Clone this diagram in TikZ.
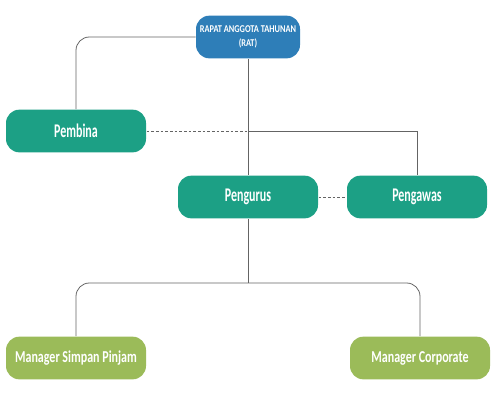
\documentclass[tikz,border=0pt]{standalone}
\usepackage{fontspec}
\setmainfont{Carlito}
\newfontfamily\orgfont{Carlito}[FakeStretch=0.62]
\newfontfamily\mgrfont{Carlito}[FakeStretch=0.72]
\newfontfamily\ratfont{Carlito}[FakeStretch=0.8]
\usetikzlibrary{positioning}

\definecolor{ratblue}{RGB}{46,126,184}
\definecolor{orgteal}{RGB}{28,160,133}
\definecolor{mgrgreen}{RGB}{155,187,89}
\definecolor{linegray}{RGB}{100,100,100}

\tikzset{every picture/.style={line width=0.75pt}}
\tikzset{
  box/.style={rounded corners=10pt, text=white, inner sep=0.75pt,
    minimum width=105pt, minimum height=32pt, align=center},
  ratbox/.style={box, fill=ratblue, minimum width=78pt,
    font=\ratfont\bfseries\fontsize{7.8}{10.5}\selectfont},
  orgbox/.style={box, fill=orgteal, font=\orgfont\bfseries\fontsize{14.5}{16}\selectfont},
  mgrbox/.style={box, fill=mgrgreen, font=\mgrfont\bfseries\fontsize{12.5}{14}\selectfont},
  conn/.style={draw=linegray, line width=0.6pt},
  dashconn/.style={conn, dash pattern={on 2pt off 1.5pt}}
}

\begin{document}
\begin{tikzpicture}[x=0.75pt,y=0.75pt,yscale=-1,xscale=1]
		\useasboundingbox (0,0) rectangle (500,400);
		
		% Boxes
		\node [ratbox] (rat) at (248,37) {RAPAT ANGGOTA TAHUNAN\\(RAT)};
		\node [orgbox] (pembina) at (76,131) {Pembina};
		\node [orgbox] (pengurus) at (248,197) {Pengurus};
		\node [orgbox] (pengawas) at (417,197) {Pengawas};
		\node [mgrbox] (simpan) at (76,358) {Manager Simpan Pinjam};
		\node [mgrbox] (corporate) at (420,358) {Manager Corporate};
		\coordinate (split) at (248,283);
		
		% Connectors
		\draw [conn, rounded corners=10pt] (rat.west) -| (pembina.north);
		\draw [conn] (rat.south) -- (pengurus.north);
		\draw [conn] (pengurus.north |- pembina.east) -| (pengawas.north);
		\draw [dashconn] (pembina.east) -- (pengurus.north |- pembina.east);
		\draw [dashconn] (pengurus.east) -- (pengawas.west);
		\draw [conn] (pengurus.south) -- (split);
		\draw [conn, rounded corners=10pt] (simpan.north) |- (split) -| (corporate.north);
	\end{tikzpicture}
\end{document}
